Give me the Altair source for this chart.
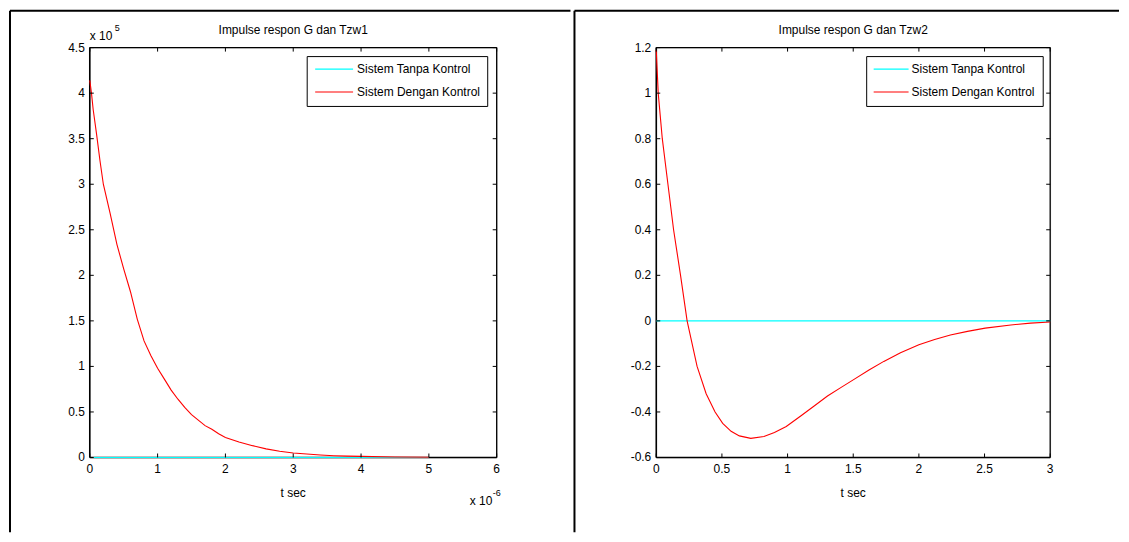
import altair as alt
import pandas as pd

# ---------------- data ----------------
# Panel 1: time in units of 1e-6 s, response in units of 1e5
t1_dengan = [0, 0.025, 0.05, 0.1, 0.15, 0.2, 0.3, 0.4, 0.5, 0.6, 0.7, 0.8, 0.9, 1.0,
             1.1, 1.2, 1.3, 1.4, 1.5, 1.6, 1.7, 1.8, 1.9, 2.0, 2.2, 2.4, 2.6, 2.8,
             3.0, 3.2, 3.4, 3.6, 3.8, 4.0, 4.5, 5.0]
g1_dengan = [4.14, 4.0, 3.82, 3.55, 3.26, 3.0, 2.68, 2.34, 2.07, 1.82, 1.52, 1.28, 1.12, 0.98,
             0.86, 0.74, 0.64, 0.55, 0.47, 0.41, 0.35, 0.31, 0.26, 0.22, 0.17, 0.13, 0.095, 0.068,
             0.05, 0.038, 0.028, 0.02, 0.015, 0.012, 0.006, 0.003]
t1_tanpa = [0, 5.0]
g1_tanpa = [0, 0]

# Panel 2: time in s
t2_dengan = [0, 0.015, 0.046, 0.089, 0.132, 0.185, 0.235, 0.311, 0.38, 0.448, 0.506, 0.57,
             0.633, 0.72, 0.82, 0.9, 0.99, 1.10, 1.2, 1.304, 1.405, 1.506, 1.62, 1.733, 1.86,
             2.0, 2.12, 2.24, 2.37, 2.505, 2.70, 2.85, 3.0]
g2_dengan = [1.19, 1.0, 0.8, 0.6, 0.4, 0.2, 0.0, -0.2, -0.32, -0.4, -0.45, -0.485,
             -0.505, -0.516, -0.508, -0.49, -0.464, -0.418, -0.375, -0.330, -0.293, -0.257, -0.216, -0.178, -0.14,
             -0.105, -0.082, -0.062, -0.046, -0.032, -0.018, -0.01, -0.005]
t2_tanpa = [0, 3.0]
g2_tanpa = [0, 0]

series = ["Sistem Tanpa Kontrol", "Sistem Dengan Kontrol"]
colors = ["#00FFFF", "#FF0000"]

x1_ticks = [0, 1, 2, 3, 4, 5, 6]
x1_labels = ["0", "1", "2", "3", "4", "5", "6"]
y1_ticks = [0, 0.5, 1, 1.5, 2, 2.5, 3, 3.5, 4, 4.5]
y1_labels = ["0", "0.5", "1", "1.5", "2", "2.5", "3", "3.5", "4", "4.5"]
x2_ticks = [0, 0.5, 1, 1.5, 2, 2.5, 3]
x2_labels = ["0", "0.5", "1", "1.5", "2", "2.5", "3"]
y2_ticks = [-0.6, -0.4, -0.2, 0, 0.2, 0.4, 0.6, 0.8, 1, 1.2]
y2_labels = ["-0.6", "-0.4", "-0.2", "0", "0.2", "0.4", "0.6", "0.8", "1", "1.2"]

titles = ["Impulse respon G dan Tzw1", "Impulse respon G dan Tzw2"]
xlabel = "t sec"

FONT = "Liberation Sans"
FS = 12
H = 411

one = pd.DataFrame({"a": [0]})


def txt(text, x, y, align="center", size=FS, baseline="alphabetic"):
    return alt.Chart(one).mark_text(
        font=FONT, fontSize=size, color="black", align=align, baseline=baseline
    ).encode(x=alt.value(x), y=alt.value(y), text=alt.value(text))


def rule(x, x2, y, y2, color="black", sw=2):
    return alt.Chart(one).mark_rule(color=color, strokeWidth=sw).encode(
        x=alt.value(x), x2=alt.value(x2), y=alt.value(y), y2=alt.value(y2)
    )


def panel(t_tanpa, v_tanpa, t_dengan, v_dengan, xdom, ydom, xt, xl, yt, yl, W, title,
          leg, borders, extras):
    xs = alt.Scale(domain=xdom, nice=False, zero=False)
    ys = alt.Scale(domain=ydom, nice=False, zero=False)

    d_tanpa = pd.DataFrame({"t": t_tanpa, "v": v_tanpa})
    d_dengan = pd.DataFrame({"t": t_dengan, "v": v_dengan})

    # plot box (drawn under the data)
    frame = [
        rule(0, W, 0, 0, sw=1.3),
        rule(0, W, H, H, sw=1.6),
        rule(0, 0, 0, H, sw=1.6),
        rule(W, W, 0, H, sw=1.3),
    ]

    tanpa = alt.Chart(d_tanpa).mark_line(color=colors[0], strokeWidth=1.2).encode(
        x=alt.X("t:Q", scale=xs, axis=None),
        y=alt.Y("v:Q", scale=ys, axis=None),
    )
    dengan = alt.Chart(d_dengan).mark_line(color=colors[1], strokeWidth=1.1).encode(
        x=alt.X("t:Q", scale=xs, axis=None),
        y=alt.Y("v:Q", scale=ys, axis=None),
    )

    dxt = pd.DataFrame({"t": xt, "lab": xl})
    dyt = pd.DataFrame({"v": yt, "lab": yl})
    tk = 4
    xt_bot = alt.Chart(dxt).mark_rule(color="black", strokeWidth=1).encode(
        x=alt.X("t:Q", scale=xs, axis=None), y=alt.value(H), y2=alt.value(H - tk))
    xt_top = alt.Chart(dxt).mark_rule(color="black", strokeWidth=1).encode(
        x=alt.X("t:Q", scale=xs, axis=None), y=alt.value(0), y2=alt.value(tk))
    yt_l = alt.Chart(dyt).mark_rule(color="black", strokeWidth=1).encode(
        y=alt.Y("v:Q", scale=ys, axis=None), x=alt.value(0), x2=alt.value(tk))
    yt_r = alt.Chart(dyt).mark_rule(color="black", strokeWidth=1).encode(
        y=alt.Y("v:Q", scale=ys, axis=None), x=alt.value(W), x2=alt.value(W - tk))

    xlab = alt.Chart(dxt).mark_text(font=FONT, fontSize=FS, color="black",
                                    align="center", baseline="top").encode(
        x=alt.X("t:Q", scale=xs, axis=None), y=alt.value(H + 7), text="lab:N")
    ylab = alt.Chart(dyt).mark_text(font=FONT, fontSize=FS, color="black",
                                    align="right", baseline="middle").encode(
        y=alt.Y("v:Q", scale=ys, axis=None), x=alt.value(-5), text="lab:N")

    # legend box
    bx1, bx2, by1, by2, lx1, lx2, tx, r1, r2 = leg
    box = alt.Chart(one).mark_rect(fill="white", stroke="black", strokeWidth=1).encode(
        x=alt.value(bx1), x2=alt.value(bx2), y=alt.value(by1), y2=alt.value(by2))
    layers = frame + [tanpa, dengan, xt_bot, xt_top, yt_l, yt_r, xlab, ylab, box]
    for i, ry in enumerate([r1, r2]):
        layers.append(rule(lx1, lx2, ry, ry, color=colors[i], sw=1.2))
        layers.append(txt(series[i], tx, ry + 4, align="left"))

    layers.append(txt(title, W / 2, -14))
    layers.append(txt(xlabel, W / 2, 451))
    layers += extras
    for b in borders:
        layers.append(rule(*b))

    return alt.layer(*layers).properties(width=W, height=H)


W1, W2 = 408, 395

extras1 = [
    txt("x 10", 0, -8, align="left"),
    txt("5", 25, -17, align="left", size=9),
    txt("x 10", 381, 459, align="left"),
    txt("-6", 404, 450, align="left", size=9),
]
borders1 = [
    (-80, -80, -37, 486),      # left border of the table
    (-80, 482, -37, -37),      # top border
]
leg1 = (W1 - 190, W1 - 9, 9, 59, W1 - 182, W1 - 144, W1 - 140, 21.5, 44.5)

borders2 = [
    (-82, -82, -37, 486),      # divider between the two cells
    (-82, 464, -37, -37),      # top border
]
leg2 = (W2 - 184, W2 - 7, 9, 59, W2 - 177, W2 - 142, W2 - 139, 21.5, 44.5)

p1 = panel(t1_tanpa, g1_tanpa, t1_dengan, g1_dengan, [0, 6], [0, 4.5],
           x1_ticks, x1_labels, y1_ticks, y1_labels,
           W1, titles[0], leg1, borders1, extras1)
p2 = panel(t2_tanpa, g2_tanpa, t2_dengan, g2_dengan, [0, 3], [-0.6, 1.2],
           x2_ticks, x2_labels, y2_ticks, y2_labels,
           W2, titles[1], leg2, borders2, [])

chart = alt.hconcat(p1, p2, spacing=0).properties(
    padding={"left": 0, "top": 0, "right": 0, "bottom": 0}
).configure_view(strokeWidth=0).configure(background="white")

chart.save("out.html", embed_options={"renderer": "svg", "actions": False})
